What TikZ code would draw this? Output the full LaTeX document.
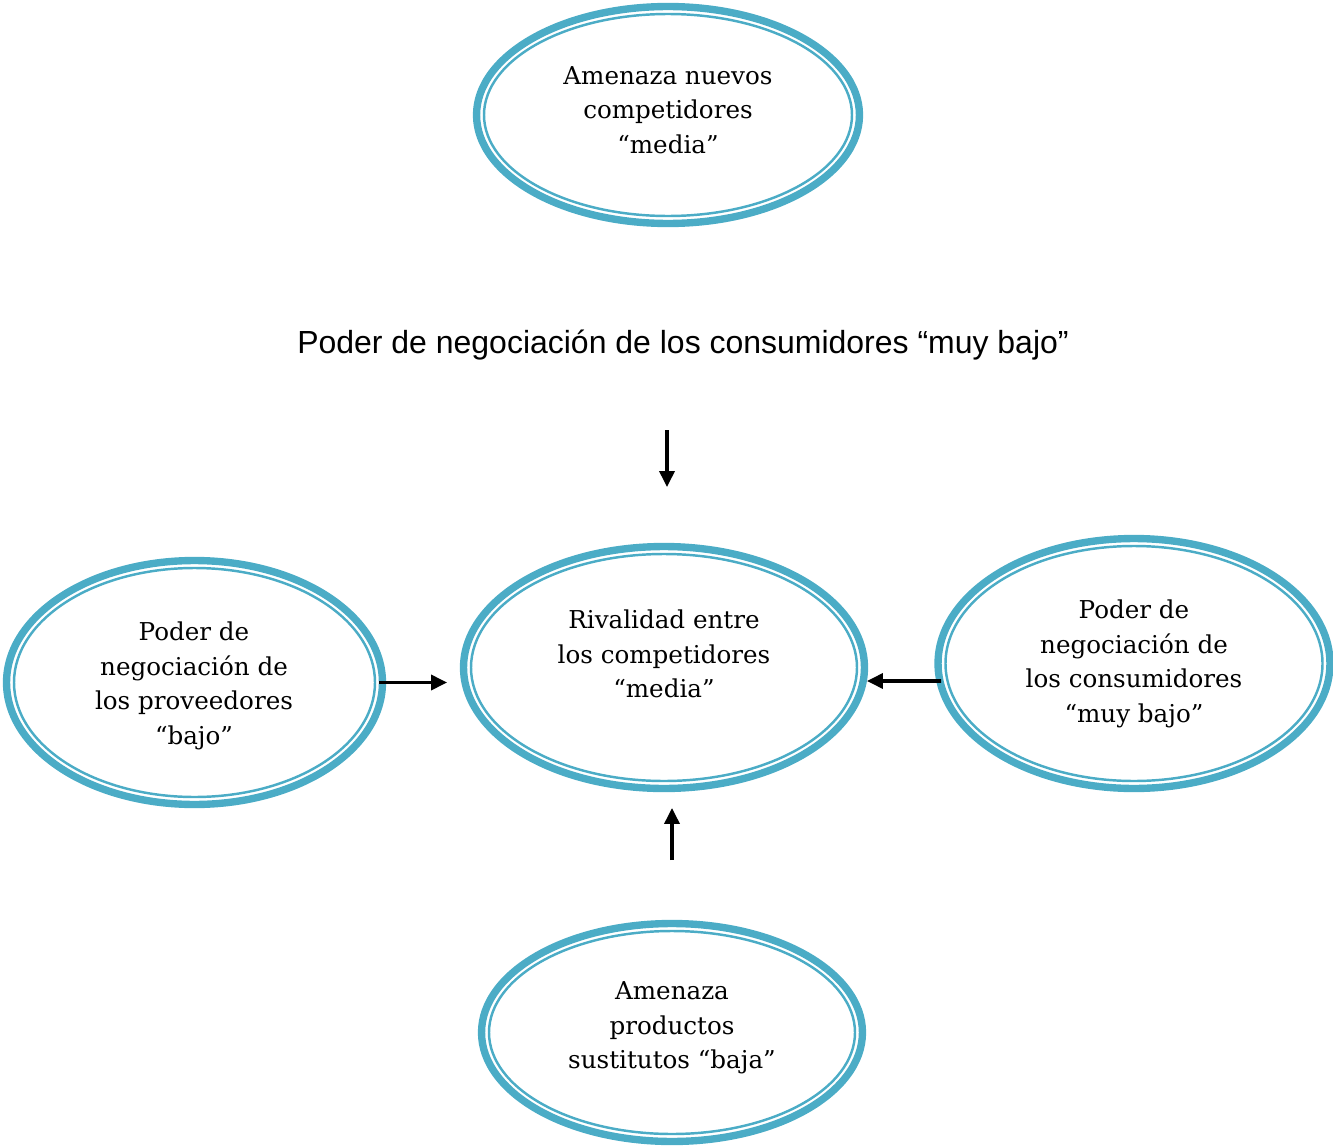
\documentclass[tikz,border=0pt]{standalone}
\usepackage{fontspec}
\setmainfont{DejaVu Serif}
\setsansfont{Liberation Sans}
\usetikzlibrary{shapes.geometric,arrows.meta}

\definecolor{forceblue}{HTML}{4BACC6}

\tikzset{
	force/.style={ellipse, draw=forceblue, line width=4.2pt, inner sep=0pt, outer sep=0pt},
	forceinner/.style={draw=forceblue, line width=1.4pt},
	forcetext/.style={align=center, inner sep=0pt, font=\fontsize{14}{19.6}\selectfont},
	push/.style={-{Triangle[length=0.32cm,width=0.3cm]}, line width=2pt},
}

\begin{document}
\begin{tikzpicture}[x=0.02cm,y=-0.02cm]
	\useasboundingbox (0,0) rectangle (1333,1146);

	% the five forces
	\node[force, minimum width=7.66cm, minimum height=4.34cm] (nuevos) at (668,115) {};
	\node[force, minimum width=7.52cm, minimum height=4.88cm] (prov) at (194.5,682.5) {};
	\node[force, minimum width=8.02cm, minimum height=4.84cm] (riv) at (664,667.5) {};
	\node[force, minimum width=7.84cm, minimum height=5.00cm] (cons) at (1134,663.5) {};
	\node[force, minimum width=7.62cm, minimum height=4.36cm] (sust) at (672,1032.5) {};

	\draw[forceinner] (nuevos.center) ellipse [x radius=184, y radius=101];
	\draw[forceinner] (prov.center) ellipse [x radius=180.5, y radius=114.5];
	\draw[forceinner] (riv.center) ellipse [x radius=193, y radius=113.5];
	\draw[forceinner] (cons.center) ellipse [x radius=188.5, y radius=117.5];
	\draw[forceinner] (sust.center) ellipse [x radius=183, y radius=101.5];

	\node[forcetext] (nuevos-text) at (668,110) {Amenaza nuevos\\competidores\\“media”};
	\node[forcetext] (prov-text) at (194,686) {Poder de\\negociación de\\los proveedores\\“bajo”};
	\node[forcetext] (riv-text) at (664,654) {Rivalidad entre\\los competidores\\“media”};
	\node[forcetext] (cons-text) at (1134,664) {Poder de\\negociación de\\los consumidores\\“muy bajo”};
	\node[forcetext] (sust-text) at (672,1028) {Amenaza\\productos\\sustitutos “baja”};

	\node[font=\sffamily\fontsize{18.2}{22}\selectfont] (title) at (683,345) {Poder de negociación de los consumidores “muy bajo”};

	% arrows into the rivalry
	\coordinate (title-arrow) at (667,430);
	\draw[push, shorten >=1.19cm] (title-arrow) -- (title-arrow |- riv.north);
	\draw[push, shorten <=-0.06cm, shorten >=0.33cm] (prov.east) -- (prov.east -| riv.west);
	\draw[push] ([yshift=-0.35cm,xshift=0.06cm]cons.west) -- ([yshift=-0.27cm,xshift=0.05cm]riv.east);
	\draw[push, shorten <=1.27cm, shorten >=0.39cm] (sust.north) -- (sust.north |- riv.south);
\end{tikzpicture}
\end{document}
